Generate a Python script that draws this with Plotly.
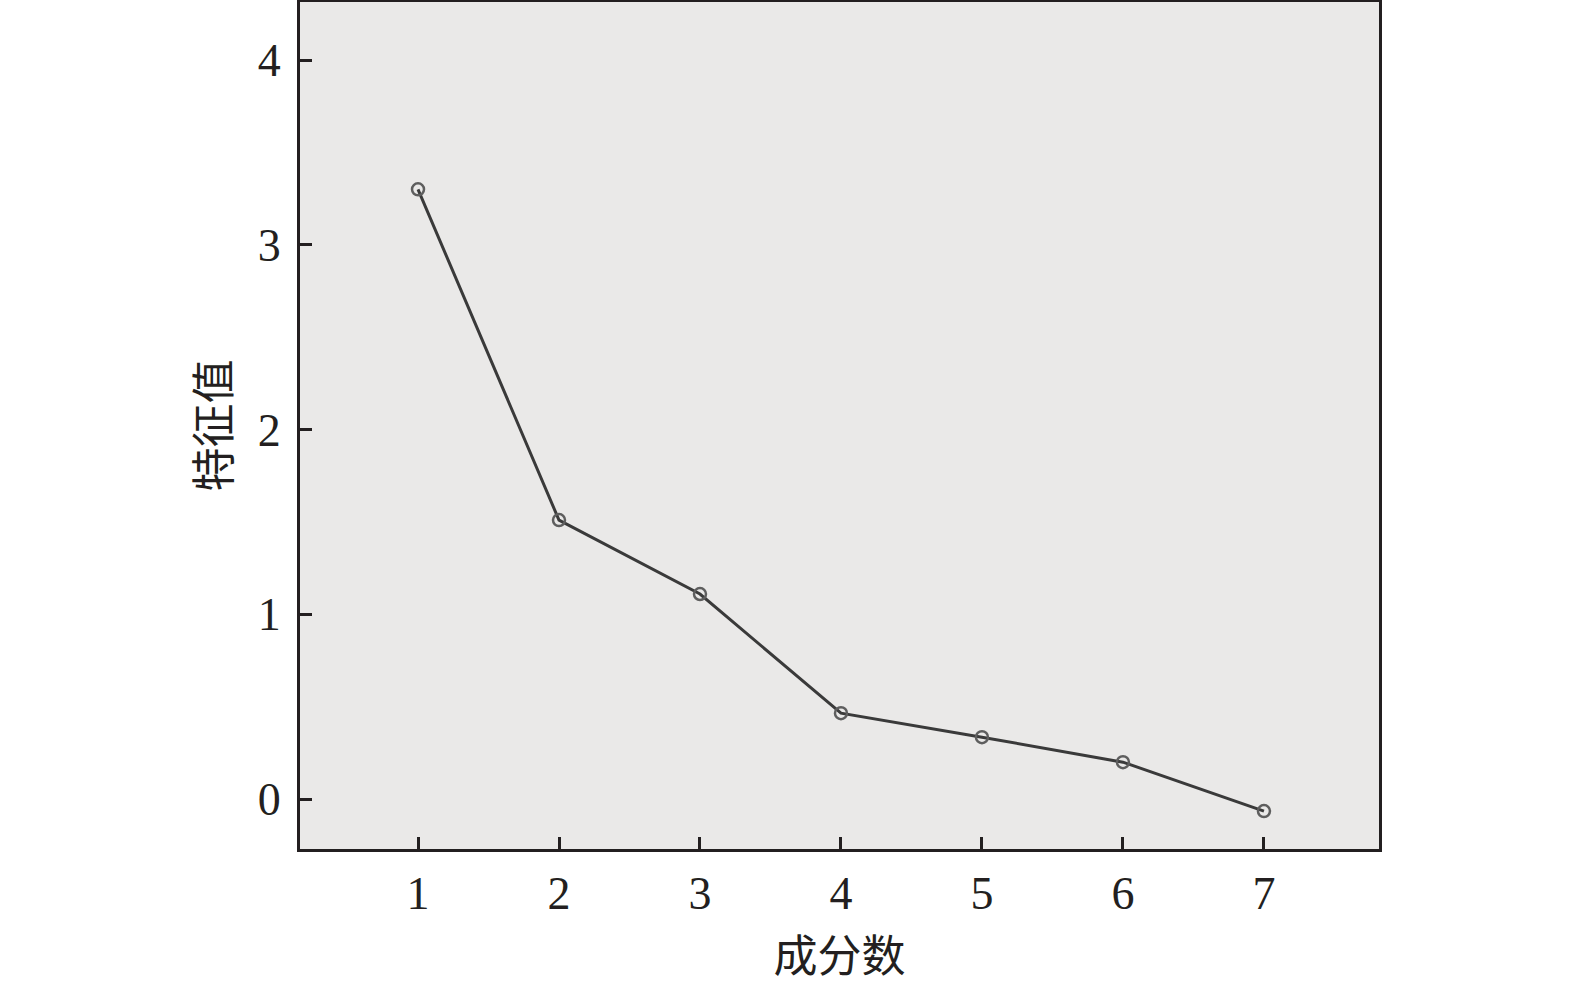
import plotly.graph_objects as go

components = [1, 2, 3, 4, 5, 6, 7]
eigenvalues = [3.30, 1.51, 1.11, 0.465, 0.335, 0.20, -0.065]
x_ticks = [1, 2, 3, 4, 5, 6, 7]
y_ticks = [0, 1, 2, 3, 4]

FONT = "Liberation Serif, Times New Roman, Noto Sans CJK SC, serif"
CJK = "Noto Sans CJK SC, Liberation Serif, serif"

fig = go.Figure()
fig.add_trace(go.Scatter(
    x=components, y=eigenvalues, mode="lines+markers",
    line=dict(color="#3a3a3a", width=3),
    marker=dict(symbol="circle-open", size=12, color="#5e5e5e", line=dict(width=2.5)),
    showlegend=False,
))

axis_common = dict(
    showline=True, linecolor="#231f20", linewidth=3, mirror=True,
    ticks="inside", ticklen=12, tickwidth=3, tickcolor="#231f20",
    showgrid=False, zeroline=False, automargin=False,
    tickfont=dict(family=FONT, size=46, color="#231f20"),
)

fig.update_layout(
    template="none",
    width=1575, height=985,
    margin=dict(l=300, r=196, t=2, b=136),
    paper_bgcolor="white", plot_bgcolor="#eae9e8",
    xaxis=dict(range=[0.163, 7.816], tickvals=x_ticks, ticklabelstandoff=2,
               title=dict(text="成分数", font=dict(family=CJK, size=44, color="#231f20"), standoff=28),
               **axis_common),
    yaxis=dict(range=[-0.27, 4.314], tickvals=y_ticks, ticklabelstandoff=7,
               title=dict(text="特征值", font=dict(family=CJK, size=44, color="#231f20"), standoff=14),
               **axis_common),
)

fig.write_html("out.html", config={"displayModeBar": False},
               post_script="document.body.style.margin='0';")
